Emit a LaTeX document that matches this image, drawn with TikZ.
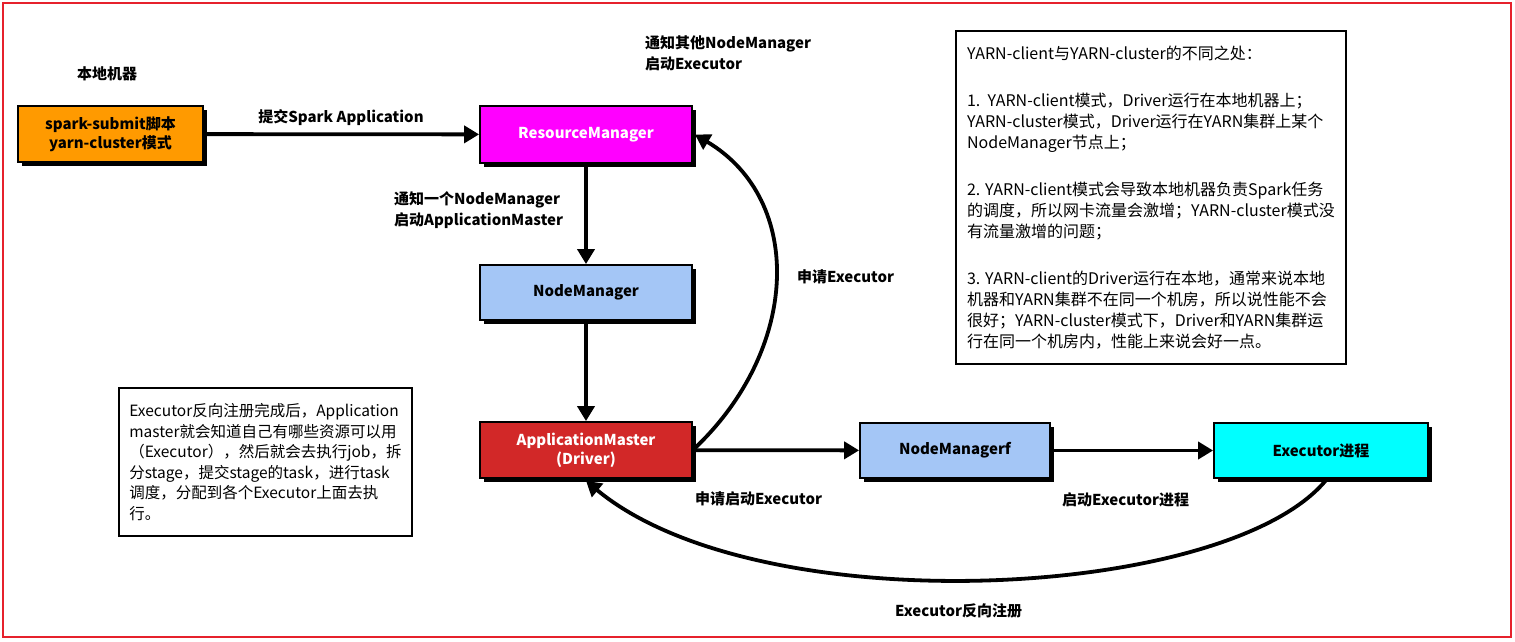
\documentclass[tikz,border=0pt]{standalone}
\usepackage{fontspec}
\setmainfont{Noto Sans CJK SC}
\usetikzlibrary{arrows.meta,shadows}
\definecolor{frame}{RGB}{230,33,44}
\definecolor{orangebox}{RGB}{255,154,0}
\definecolor{magbox}{RGB}{255,0,255}
\definecolor{bluebox}{RGB}{164,198,246}
\definecolor{redbox}{RGB}{210,40,40}
\definecolor{cyanbox}{RGB}{0,255,255}
\tikzset{
  box/.style={draw=black,line width=1.8pt,rectangle,align=center,
    font=\fontsize{15}{19}\selectfont\bfseries,
    drop shadow={shadow xshift=3.5pt,shadow yshift=-3.5pt,opacity=1,fill=black}},
  note/.style={draw=black,line width=1.8pt,rectangle,align=left,fill=white,
    font=\fontsize{15.5}{20.5}\selectfont,
    drop shadow={shadow xshift=1.5pt,shadow yshift=-1.5pt,opacity=1,fill=black}},
  lbl/.style={font=\fontsize{15}{21}\selectfont\bfseries,align=left,inner sep=0pt},
  conn/.style={line width=3.8pt,-{Triangle[length=15pt,width=17pt]}},
}
\begin{document}
\begin{tikzpicture}[x=1pt,y=-1pt]
\useasboundingbox (0,0) rectangle (1515,642);
\draw[frame,line width=2pt] (3,3) rectangle (1511,637);

% boxes
\node[box,fill=orangebox,minimum width=185pt,minimum height=56pt] (spark) at (110.5,134) {spark-submit脚本\\yarn-cluster模式};
\node[box,fill=magbox,text=white,minimum width=212pt,minimum height=57pt] (rm) at (586,134.5) {ResourceManager};
\node[box,fill=bluebox,minimum width=212pt,minimum height=55pt] (nm) at (586,292.5) {NodeManager};
\node[box,fill=redbox,text=white,minimum width=212pt,minimum height=56pt] (am) at (586,450) {ApplicationMaster\\(Driver)};
\node[box,fill=bluebox,minimum width=190pt,minimum height=55pt] (nmf) at (955,450.5) {NodeManagerf};
\node[box,fill=cyanbox,minimum width=214pt,minimum height=55pt] (exe) at (1321,450.5) {Executor进程};

% notes
\node[note,anchor=north west,minimum width=293pt,minimum height=148pt,inner sep=7pt] (leftnote) at (118,387) {Executor反向注册完成后，Application\\master就会知道自己有哪些资源可以用\\（Executor），然后就会去执行job，拆\\分stage，提交stage的task，进行task\\调度，分配到各个Executor上面去执\\行。};
\node[note,anchor=north west,minimum width=390pt,minimum height=333pt,inner sep=7pt,font=\fontsize{16}{21}\selectfont] (rightnote) at (955,30) {YARN-client与YARN-cluster的不同之处：\\[26pt]
1.\ \ YARN-client模式，Driver运行在本地机器上；\\
YARN-cluster模式，Driver运行在YARN集群上某个\\
NodeManager节点上；\\[26pt]
2. YARN-client模式会导致本地机器负责Spark任务\\
的调度，所以网卡流量会激增；YARN-cluster模式没\\
有流量激增的问题；\\[26pt]
3. YARN-client的Driver运行在本地，通常来说本地\\
机器和YARN集群不在同一个机房，所以说性能不会\\
很好；YARN-cluster模式下，Driver和YARN集群运\\
行在同一个机房内，性能上来说会好一点。};

% labels
\node[lbl] (local) at (107,74) {本地机器};
\node[lbl] (submit) at (341,118) {提交Spark Application};
\node[lbl,anchor=west] (notifyother) at (645,53) {通知其他NodeManager\\启动Executor};
\node[lbl,anchor=west] (notifyone) at (394,210.5) {通知一个NodeManager\\启动ApplicationMaster};
\node[lbl,anchor=west] (applyexe) at (797,277) {申请Executor};
\node[lbl,anchor=west] (applystart) at (695,499) {申请启动Executor};
\node[lbl,anchor=west] (startexe) at (1062,500) {启动Executor进程};
\node[lbl,anchor=west] (register) at (895,611) {Executor反向注册};

% connectors
\draw[conn] (spark) -- (rm);
\draw[conn] (rm) -- (nm);
\draw[conn] (nm) -- (am);
\draw[conn] (am) -- (nmf);
\draw[conn] (nmf) -- (exe);
\draw[conn] (am.east) .. controls (800,350) and (805,200) .. ([xshift=2pt]rm.east);
\draw[conn] ([xshift=6pt]exe.south) .. controls (1230,600) and (760,625) .. ([yshift=-2pt]am.south);
\end{tikzpicture}
\end{document}
